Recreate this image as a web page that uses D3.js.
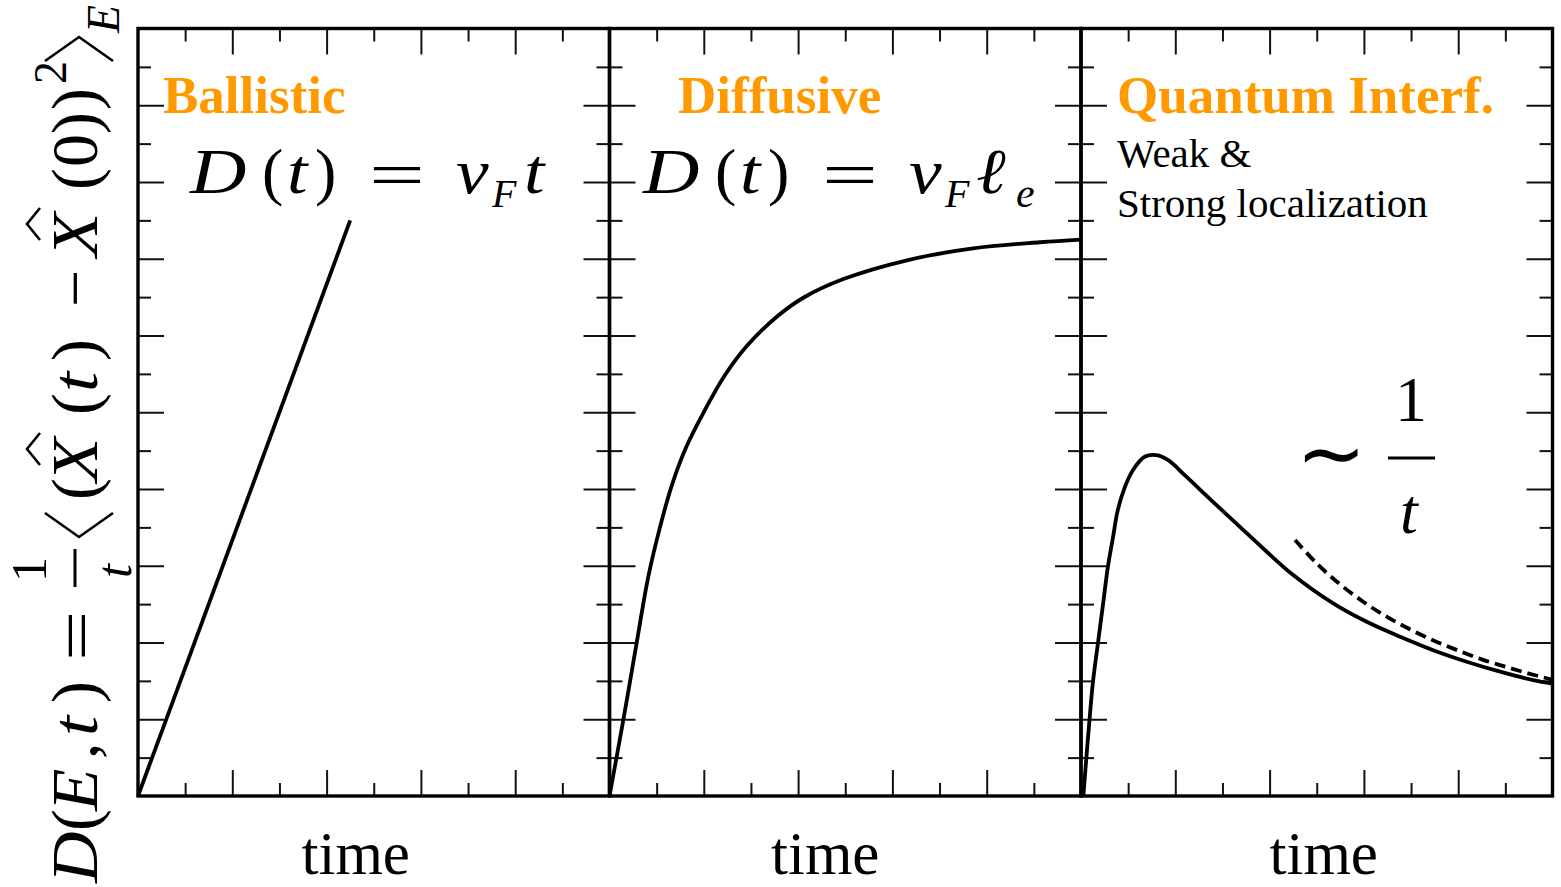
<!DOCTYPE html>
<html>
<head>
<meta charset="utf-8">
<script src="https://cdn.jsdelivr.net/npm/d3@7"></script>
<style>
  html, body { margin: 0; padding: 0; background: #fff; }
  svg { display: block; }
  text { font-family: "Liberation Serif", "Times New Roman", serif; }
</style>
</head>
<body>
<svg id="chart" width="1561" height="887"></svg>
<script>
// ---- data -------------------------------------------------------------
const panelTitles = ["Ballistic", "Diffusive", "Quantum Interf."];
const xMajorTicks = [2, 4, 6, 8];
const xMinorTicks = [1, 3, 5, 7, 9];
const yMajorTicks = [2, 4, 6, 8, 10, 12, 14, 16, 18];
const yMinorTicks = [1, 3, 5, 7, 9, 11, 13, 15, 17, 19];

// ballistic regime: D grows linearly in time
const ballisticT = [0, 4.5];
const ballisticD = [0, 15.0];

// diffusive regime: saturates at v_F * l_e
const diffusiveT = [0, 0.30, 0.58, 0.82, 1.07, 1.32, 1.63, 2.02, 2.44, 2.93, 3.56, 4.12, 4.96, 6.31, 7.71, 9.13, 10];
const diffusiveD = [0, 2.03, 4.02, 5.70, 7.00, 8.09, 9.10, 10.05, 10.95, 11.75, 12.50, 12.99, 13.47, 13.96, 14.27, 14.43, 14.5];

// localization regime: peak then decay
const localT = [0.05, 0.11, 0.18, 0.25, 0.36, 0.47, 0.57, 0.68, 0.78, 0.93, 1.10, 1.35, 1.60, 1.85, 2.20, 2.76, 3.33, 3.90, 4.46, 5.35, 6.06, 6.77, 7.47, 8.18, 8.89, 9.59, 10];
const localD = [0, 0.94, 1.98, 2.93, 3.99, 5.02, 5.97, 6.75, 7.45, 8.05, 8.49, 8.84, 8.88, 8.75, 8.36, 7.71, 7.06, 6.41, 5.80, 5.02, 4.54, 4.15, 3.80, 3.50, 3.24, 3.02, 2.93];

// 1/t guide
const guideT = [4.54, 5.0, 5.5, 6.0, 6.5, 7.0, 7.5, 8.0, 8.5, 9.0, 9.5, 10.0];
const guideD = [6.67, 6.06, 5.51, 5.05, 4.66, 4.33, 4.04, 3.79, 3.56, 3.37, 3.19, 3.03];

// ---- layout -----------------------------------------------------------
const plotLeft = 138, panelW = 471.5, plotTop = 28.5, plotBottom = 796;
const orange = "#ff9900";
const svg = d3.select("#chart");

const y = d3.scaleLinear().domain([0, 20]).range([plotBottom, plotTop]);
const xScales = [0, 1, 2].map(i =>
  d3.scaleLinear().domain([0, 10]).range([plotLeft + i * panelW, plotLeft + (i + 1) * panelW]));

const zip = (a, b) => a.map((v, i) => [v, b[i]]);

function drawTicks(g, axis, values, size) {
  g.call(axis.tickValues(values).tickSize(size).tickFormat(""));
  g.select(".domain").remove();
  g.selectAll(".tick line").attr("stroke", "#111").attr("stroke-width", 2);
}

xScales.forEach((x, i) => {
  const [x0, x1] = x.range();
  const p = svg.append("g").attr("class", "panel");

  // ticks on all four sides, pointing inward
  [[xMajorTicks, 26], [xMinorTicks, 13]].forEach(([vals, s]) => {
    drawTicks(p.append("g").attr("transform", `translate(0,${plotBottom})`), d3.axisTop(x), vals, s);
    drawTicks(p.append("g").attr("transform", `translate(0,${plotTop})`), d3.axisBottom(x), vals, s);
  });
  [[yMajorTicks, 26], [yMinorTicks, 13]].forEach(([vals, s]) => {
    drawTicks(p.append("g").attr("transform", `translate(${x0},0)`), d3.axisRight(y), vals, s);
    drawTicks(p.append("g").attr("transform", `translate(${x1},0)`), d3.axisLeft(y), vals, s);
  });

  p.append("rect")
    .attr("x", x0).attr("y", plotTop)
    .attr("width", x1 - x0).attr("height", plotBottom - plotTop)
    .attr("fill", "none").attr("stroke", "#000").attr("stroke-width", 3.4);

  p.append("text")
    .attr("x", (x0 + x1) / 2 + [-18, -20, 7][i]).attr("y", 874)
    .attr("text-anchor", "middle")
    .attr("font-size", 61).attr("fill", "#000")
    .text("time");

  p.append("text")
    .attr("x", x0 + [25, 68.5, 36][i]).attr("y", 113)
    .attr("font-size", 53).attr("font-weight", "bold").attr("fill", orange)
    .text(panelTitles[i]);
});

const line = x => d3.line().x(d => x(d[0])).y(d => y(d[1])).curve(d3.curveCatmullRom.alpha(0.5));
const curveStyle = sel => sel.attr("fill", "none").attr("stroke", "#000")
  .attr("stroke-width", 3.8).attr("stroke-linejoin", "round");

svg.append("path").datum(zip(ballisticT, ballisticD)).attr("d", line(xScales[0])).call(curveStyle);
svg.append("path").datum(zip(diffusiveT, diffusiveD)).attr("d", line(xScales[1])).call(curveStyle);
svg.append("path").datum(zip(localT, localD)).attr("d", line(xScales[2])).call(curveStyle);
svg.append("path").datum(zip(guideT, guideD)).attr("d", line(xScales[2])).call(curveStyle)
  .attr("stroke-dasharray", "11,6").attr("stroke-linejoin", "miter");

// ---- math annotations ---------------------------------------------------
// each piece: glyph s at (x, y), font size, italic flag, horizontal stretch sx
function mathPieces(g, pieces, base) {
  pieces.forEach(p => {
    g.append("text")
      .attr("transform", `translate(${p.x},${p.y || 0}) scale(${p.sx || 1},1)`)
      .attr("font-size", p.size || base)
      .attr("font-style", p.it ? "italic" : "normal")
      .attr("fill", "#000")
      .text(p.s);
  });
}

const dHead = [
  { s: "D", x: 0, it: true, sx: 1.22 }, { s: "(", x: 72 }, { s: "t", x: 97, it: true, sx: 1.15 },
  { s: ")", x: 125 }, { s: "=", x: 179, y: 3, sx: 1.55 }, { s: "v", x: 266, it: true, sx: 1.15 },
  { s: "F", x: 302, y: 14, size: 40, it: true }
];
// D(t) = v_F t
mathPieces(svg.append("g").attr("transform", "translate(190,193)"),
  dHead.concat([{ s: "t", x: 334, it: true, sx: 1.15 }]), 64);
// D(t) = v_F l_e
mathPieces(svg.append("g").attr("transform", "translate(643,193)"),
  dHead.concat([{ s: "ℓ", x: 333, it: true, sx: 1.1 }, { s: "e", x: 373, y: 14, size: 42, it: true }]), 64);

// Weak & strong localization note
svg.append("text").attr("x", 1117).attr("y", 167).attr("font-size", 41).text("Weak &");
svg.append("text").attr("x", 1117).attr("y", 217).attr("font-size", 41).text("Strong localization");

// ~ 1/t
const inv = svg.append("g");
inv.append("text").attr("x", 1296).attr("y", 482).attr("font-size", 84).text("∼");
inv.append("text").attr("x", 1411).attr("y", 421).attr("font-size", 64)
  .attr("text-anchor", "middle").text("1");
inv.append("line").attr("x1", 1388).attr("x2", 1435).attr("y1", 458).attr("y2", 458)
  .attr("stroke", "#000").attr("stroke-width", 3);
inv.append("text").attr("x", 1409).attr("y", 533).attr("font-size", 64)
  .attr("font-style", "italic").attr("text-anchor", "middle").text("t");

// vertical axis label: D(E,t) = (1/t) <(X(t) - X(0))^2>_E
const yl = svg.append("g").attr("transform", "translate(97,885) rotate(-90)");
mathPieces(yl, [
  { s: "D", x: 2, it: true, sx: 1.08 }, { s: "(", x: 54 }, { s: "E", x: 74, it: true, sx: 1.05 },
  { s: ",", x: 126 }, { s: "t", x: 149, it: true, sx: 1.1 }, { s: ")", x: 182 },
  { s: "=", x: 224, y: 2, sx: 1.35 },
  { s: "1", x: 303, y: -51, size: 50 }, { s: "t", x: 307, y: 34, size: 50, it: true },
  { s: "(", x: 385 }, { s: "X", x: 403, it: true, sx: 1.1 },
  { s: "(", x: 470 }, { s: "t", x: 493, it: true, sx: 1.1 }, { s: ")", x: 524 },
  { s: "−", x: 578 },
  { s: "X", x: 628, it: true, sx: 1.1 },
  { s: "(", x: 695 }, { s: "0", x: 718 }, { s: ")", x: 751 }, { s: ")", x: 775 },
  { s: "2", x: 801, y: -31, size: 46 },
  { s: "E", x: 852, y: 22, size: 46, it: true }
], 66);
yl.append("line").attr("x1", 298).attr("x2", 336).attr("y1", -22).attr("y2", -22)
  .attr("stroke", "#000").attr("stroke-width", 3);
// angle brackets and hats
const glyph = d => yl.append("path").attr("d", d).attr("fill", "none")
  .attr("stroke", "#000").attr("stroke-width", 2.6).attr("stroke-linejoin", "miter");
glyph("M372,-52 L348,-18 L372,16");
glyph("M824,-52 L848,-18 L824,16");
glyph("M420,-57 L436,-70 L452,-57");
glyph("M645,-57 L661,-70 L677,-57");
</script>
</body>
</html>
